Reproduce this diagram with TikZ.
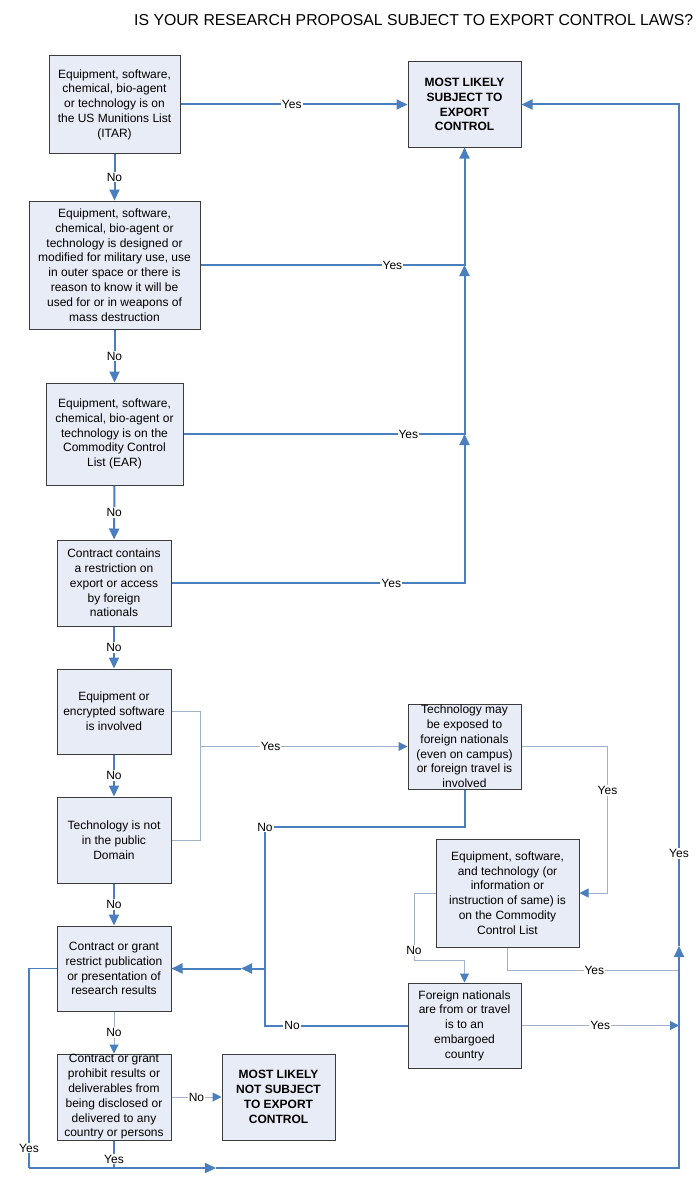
\documentclass[tikz,border=0pt]{standalone}
\usepackage{fontspec}
\setmainfont{Liberation Sans}
\usetikzlibrary{arrows.meta}
\definecolor{lineblue}{RGB}{74,126,190}
\definecolor{thingray}{RGB}{160,176,200}
\definecolor{boxfill}{RGB}{232,236,246}
\definecolor{boxline}{RGB}{60,60,60}
\newcommand{\boxfnt}{\fontsize{12}{14.8}\selectfont}
\newcommand{\lblfnt}{\fontsize{12}{14}\selectfont}
\tikzset{
  box/.style={draw=boxline, fill=boxfill, line width=1pt, align=center,
    inner xsep=1pt, inner ysep=0pt, font=\boxfnt},
  boldbox/.style={box, font=\boxfnt\bfseries},
  mainln/.style={draw=lineblue, line width=2pt},
  midln/.style={draw=lineblue, line width=1.4pt},
  thinln/.style={draw=thingray, line width=1pt},
  tip/.style={-{Triangle[length=11pt,width=10pt,color=lineblue]}},
  smalltip/.style={-{Triangle[length=9pt,width=9pt,color=lineblue]}},
  lbl/.style={fill=white, inner sep=1pt, font=\lblfnt}
}
\begin{document}
\begin{tikzpicture}[x=1pt,y=-1pt]
\useasboundingbox[fill=white] (0,0) rectangle (700,1180);

\node[anchor=base west, font=\fontsize{15.8}{18}\selectfont, inner sep=0pt] (title) at (134,26)
  {IS YOUR RESEARCH PROPOSAL SUBJECT TO EXPORT CONTROL LAWS?};

% boxes
\node[box, minimum width=131pt, minimum height=97pt] (b1) at (114.5,104.5)
  {Equipment, software,\\chemical, bio-agent\\or technology is on\\the US Munitions List\\(ITAR)};
\node[boldbox, minimum width=113pt, minimum height=85pt] (top) at (464.5,104.5)
  {MOST LIKELY\\SUBJECT TO\\EXPORT\\CONTROL};
\node[box, minimum width=171pt, minimum height=128pt] (b2) at (114.5,265)
  {Equipment, software,\\chemical, bio-agent or\\technology is designed or\\modified for military use, use\\in outer space or there is\\reason to know it will be\\used for or in weapons of\\mass destruction};
\node[box, minimum width=137pt, minimum height=102pt] (b3) at (114.5,434)
  {Equipment, software,\\chemical, bio-agent or\\technology is on the\\Commodity Control\\List (EAR)};
\node[box, minimum width=114pt, minimum height=86pt] (b4) at (114,583)
  {Contract contains\\a restriction on\\export or access\\by foreign\\nationals};
\node[box, minimum width=114pt, minimum height=85pt] (b5) at (114,711.5)
  {Equipment or\\encrypted software\\is involved};
\node[box, minimum width=114pt, minimum height=86pt] (b6) at (114,840)
  {Technology is not\\in the public\\Domain};
\node[box, minimum width=113pt, minimum height=85pt] (b7) at (464.5,746.5)
  {Technology may\\be exposed to\\foreign nationals\\(even on campus)\\or foreign travel is\\involved};
\node[box, minimum width=143pt, minimum height=108pt] (b8) at (507.5,893)
  {Equipment, software,\\and technology (or\\information or\\instruction of same) is\\on the Commodity\\Control List};
\node[box, minimum width=114pt, minimum height=85pt] (b9) at (114,968.5)
  {Contract or grant\\restrict publication\\or presentation of\\research results};
\node[box, minimum width=113pt, minimum height=85pt] (b10) at (464.5,1025.5)
  {Foreign nationals\\are from or travel\\is to an\\embargoed\\country};
\node[box, minimum width=114pt, minimum height=86pt] (b11) at (114,1097)
  {Contract or grant\\prohibit results or\\deliverables from\\being disclosed or\\delivered to any\\country or persons};
\node[boldbox, minimum width=113pt, minimum height=86pt] (b12) at (278.5,1097)
  {MOST LIKELY\\NOT SUBJECT\\TO EXPORT\\CONTROL};

% junction coordinates
\coordinate (j2) at (464.5,265);
\coordinate (j3) at (464.5,434);
\coordinate (j4) at (464.5,583);
\coordinate (s5) at (200,711.5);
\coordinate (s6) at (200,840);
\coordinate (s7) at (200,746.5);
\coordinate (c7) at (265,827);
\coordinate (c10) at (265,1025.5);
\coordinate (c9) at (265,968.5);
\coordinate (m9) at (241,968.5);
\coordinate (n8) at (414,960);
\coordinate (t8) at (679,970);
\coordinate (t10) at (679,1025.5);
\coordinate (bl) at (29,1168);
\coordinate (ba) at (216,1168);
\coordinate (b11b) at (114,1168);
\coordinate (br) at (679,1168);
\coordinate (ta) at (679,946);
\coordinate (tt) at (679,104.5);

% left column "No" arrows
\draw[mainln, tip] (b1) -- node[lbl]{No} (b2);
\draw[mainln, tip] (b2) -- node[lbl]{No} (b3);
\draw[mainln, tip] (b3) -- node[lbl]{No} (b4);
\draw[mainln, tip] (b4) -- node[lbl]{No} (b5);
\draw[mainln, tip] (b5) -- node[lbl]{No} (b6);
\draw[mainln, tip] (b6) -- node[lbl]{No} (b9);
\draw[thinln, smalltip] (b9) -- node[lbl]{No} (b11);
\draw[thinln, smalltip] (b11) -- node[lbl]{No} (b12);

% "Yes" to subject to export control
\draw[mainln, tip] (b1) -- node[lbl,pos=0.49]{Yes} (top);
\draw[mainln, tip] (b2.east) -- node[lbl,pos=0.727]{Yes} (j2) -- (top.south);
\draw[mainln, tip] (b3.east) -- node[lbl,pos=0.80]{Yes} (j3) -- (j2);
\draw[mainln, tip] (b4.east) -- node[lbl,pos=0.75]{Yes} (j4) -- (j3);

% equipment / public domain bracket
\draw[thinln] (b5.east) -- (s5) -- (s6) -- (b6.east);
\draw[thinln, smalltip] (s7) -- node[lbl,pos=0.34]{Yes} (b7.west);

% technology exposed
\draw[thinln, smalltip] (b7.east) -- ++(86,0) |- node[lbl,pos=0.15]{Yes} (b8.east);
\draw[mainln] (b7.south) |- node[lbl,pos=1]{No} (c7) -- (c10);

% foreign nationals No
\draw[mainln] (b10.west) -- node[lbl,pos=0.81]{No} (c10) -- (c9);
\draw[mainln, tip] (c9) -- (m9);
\draw[mainln, tip] (m9) -- (b9.east);

% commodity list
\draw[thinln, smalltip] (b8.west) -| node[lbl,pos=0.93]{No} (n8) -| (b10.north);
\draw[thinln] (b8.south) |- node[lbl,pos=0.753]{Yes} (t8);
\draw[thinln, smalltip] (b10.east) -- node[lbl,pos=0.5]{Yes} (t10);

% bottom and right trunk
\draw[midln] (b9.west) -| node[lbl,pos=0.95]{Yes} (bl);
\draw[mainln, tip] (bl) -- (ba);
\draw[mainln] (b11.south) -- node[lbl,pos=0.68]{Yes} (b11b);
\draw[mainln, tip] (ba) -- (br) -- (ta);
\draw[mainln, tip] (ta) -- node[lbl,pos=0.11]{Yes} (tt) -- (top.east);
\end{tikzpicture}
\end{document}
